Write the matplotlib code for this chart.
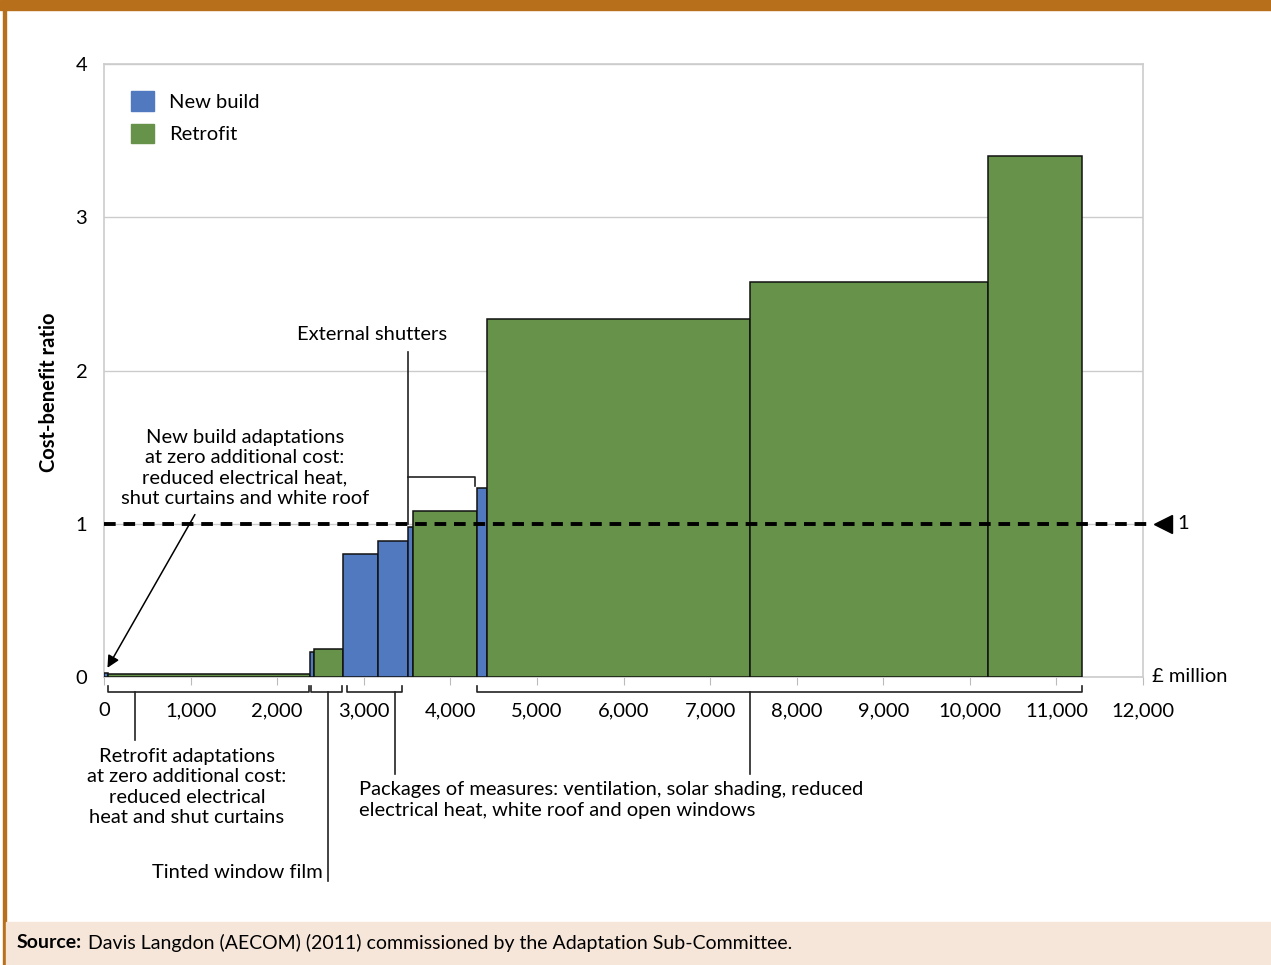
import matplotlib.pyplot as plt
from matplotlib.patches import Rectangle, Patch

plt.rcParams['font.family'] = ['Lato', 'DejaVu Sans']

# ------------------------------------------------------------------
# data: cumulative cost in £ million, cost-benefit ratio
# ------------------------------------------------------------------
bar_widths = [46, 2333, 47, 334, 405, 346, 58, 739, 116, 3037, 2749, 1086]
bar_heights = [0.026, 0.018, 0.163, 0.185, 0.80, 0.89, 0.98, 1.085, 1.233, 2.336, 2.578, 3.40]
bar_type = ['New build', 'Retrofit', 'New build', 'Retrofit', 'New build', 'New build',
            'New build', 'Retrofit', 'New build', 'Retrofit', 'Retrofit', 'Retrofit']

x_ticks = [0, 1000, 2000, 3000, 4000, 5000, 6000, 7000, 8000, 9000, 10000, 11000, 12000]
y_ticks = [0, 1, 2, 3, 4]

colors = {'New build': '#5179c0', 'Retrofit': '#66924a'}

W, H = 1271, 965
fs = 14.5
fig = plt.figure(figsize=(W / 100, H / 100), dpi=100)

# frame decoration
fig.patches.append(Rectangle((0, 1 - 10 / H), 1, 10 / H, transform=fig.transFigure,
                             color='#b86f1c', zorder=0))
fig.patches.append(Rectangle((3 / W, 0), 3 / W, 1, transform=fig.transFigure,
                             color='#b86f1c', zorder=0))
fig.patches.append(Rectangle((6 / W, 0), 1, 43 / H, transform=fig.transFigure,
                             color='#f6e6da', zorder=0))

ax = fig.add_axes([104 / W, 1 - 677 / H, (1143 - 104) / W, (677 - 64) / H])

lefts = [sum(bar_widths[:i]) for i in range(len(bar_widths))]
ax.bar(lefts, bar_heights, width=bar_widths, align='edge',
       color=[colors[t] for t in bar_type], edgecolor='#111111', linewidth=1.1, zorder=3)

ax.set_xlim(0, 12000)
ax.set_ylim(0, 4)
ax.set_xticks(x_ticks)
ax.set_xticklabels([f'{v:,}' for v in x_ticks], fontsize=fs)
ax.set_yticks(y_ticks)
ax.set_yticklabels([str(v) for v in y_ticks], fontsize=fs)
ax.tick_params(axis='x', length=6, color='#bbbbbb', pad=12)
ax.tick_params(axis='y', length=0, pad=12)
for s in ax.spines.values():
    s.set_color('#cccccc')
    s.set_linewidth(1.2)
ax.grid(axis='y', color='#cccccc', linewidth=1.0, zorder=0)
ax.set_ylabel('Cost-benefit ratio', fontsize=fs, fontweight='bold')
ax.yaxis.set_label_coords(-0.043, 0.465)

# break-even line
ax.plot([0, 12080], [1, 1], ls=(0, (3, 2)), color='black', lw=2.8, clip_on=False, zorder=4)
ax.plot([12231], [1], marker='<', color='black', markersize=13, clip_on=False)
ax.text(12400, 1, '1', fontsize=fs, va='center', ha='left')
ax.text(12100, 0, '£ million', fontsize=fs, va='center', ha='left')

# legend
handles = [Patch(color=colors['New build'], label='New build'),
           Patch(color=colors['Retrofit'], label='Retrofit')]
ax.legend(handles=handles, loc='upper left', bbox_to_anchor=(0.009, 0.985), frameon=False,
          fontsize=fs, handlelength=1.1, handleheight=1.1, handletextpad=0.75, labelspacing=0.65)

# brackets below the axis
bk = dict(color='#222222', lw=1.2, clip_on=False)
yb, yc = -0.098, -0.059
for a, b in [(46, 2368), (2391, 2749), (2807, 3442), (4308, 11296)]:
    ax.plot([a, a, b, b], [yc, yb, yb, yc], **bk)
ax.plot([358, 358], [yb, -0.41], **bk)
ax.plot([2587, 2587], [yb, -1.33], **bk)
ax.plot([3361, 3361], [yb, -0.63], **bk)
ax.plot([7461, 7461], [yb, -0.63], **bk)

# external shutters bracket
ax.plot([3511, 3511], [2.12, 1.0], **bk)
ax.plot([3511, 4280, 4280], [1.308, 1.308, 1.248], **bk)

# arrow to the tiny new build bar
ax.annotate('', xy=(40, 0.06), xytext=(1050, 1.06),
            arrowprops=dict(arrowstyle='-|>', color='black', lw=1.1,
                            mutation_scale=18, shrinkA=0, shrinkB=0))

fig.text(245 / W, 1 - 468 / H,
         'New build adaptations\nat zero additional cost:\nreduced electrical heat,\nshut curtains and white roof',
         ha='center', va='center', fontsize=fs, linespacing=1.25)
fig.text(372 / W, 1 - 334 / H, 'External shutters', ha='center', va='center', fontsize=fs)
fig.text(187 / W, 1 - 787 / H,
         'Retrofit adaptations\nat zero additional cost:\nreduced electrical\nheat and shut curtains',
         ha='center', va='center', fontsize=fs, linespacing=1.25)
fig.text(323 / W, 1 - 873 / H, 'Tinted window film', ha='right', va='center', fontsize=fs)
fig.text(359 / W, 1 - 800 / H,
         'Packages of measures: ventilation, solar shading, reduced\nelectrical heat, white roof and open windows',
         ha='left', va='center', fontsize=fs, linespacing=1.25)

# source line
fig.text(17 / W, 1 - 943 / H, 'Source:', fontsize=14, fontweight='bold', va='center')
fig.text(88 / W, 1 - 943 / H,
         'Davis Langdon (AECOM) (2011) commissioned by the Adaptation Sub-Committee.',
         fontsize=14, va='center')

fig.savefig('out.png', dpi=100)
